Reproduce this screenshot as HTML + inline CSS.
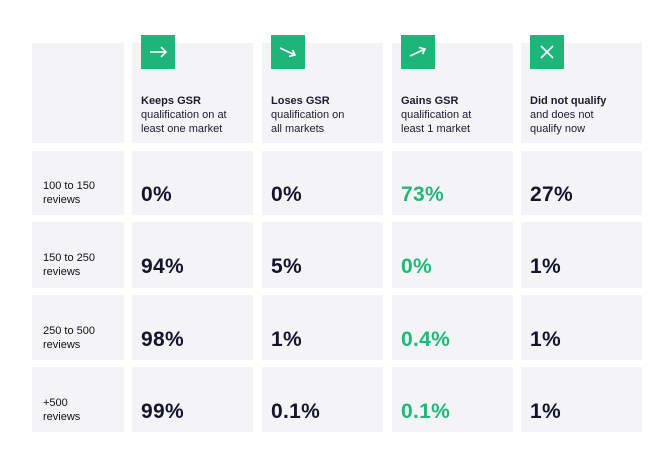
<!DOCTYPE html>
<html><head><meta charset="utf-8"><style>
body{margin:0;width:670px;height:472px;background:#fff;font-family:"Liberation Sans",sans-serif;position:relative;overflow:hidden}
.c{position:absolute;background:#f4f4f7}
.icon{position:absolute;width:34px;height:34px;background:#1fb57a}
.h{position:absolute;font-size:11px;line-height:14px;color:#1b1b2e}
.h b{font-weight:bold}
.rl{position:absolute;font-size:11px;line-height:14px;color:#111}
.v{position:absolute;font-size:21px;font-weight:bold;color:#14142b;letter-spacing:0.3px}
.g{color:#22b77a}
</style></head><body>
<div id="root"></div>
<script>
const columns=[["Keeps GSR","qualification on at","least one market"],["Loses GSR","qualification on","all markets"],["Gains GSR","qualification at","least 1 market"],["Did not qualify","and does not","qualify now"]];
const rowLabels=[["100 to 150","reviews"],["150 to 250","reviews"],["250 to 500","reviews"],["+500","reviews"]];
const values=[["0%","0%","73%","27%"],["94%","5%","0%","1%"],["98%","1%","0.4%","1%"],["99%","0.1%","0.1%","1%"]];
const greenCol=2;
const colX=[32,132,262,392,521],colW=[92,121,121,121,121];
const rowY=[151,222,295,367],rowH=[64,66,65,65];
const icons=['<path d="M9 17H25M20 12L25 17L20 22" stroke="#fff" stroke-width="1.6" fill="none"/>','<path d="M9 13L24 20M18 21.5L24 20L21.5 15" stroke="#fff" stroke-width="1.6" fill="none"/>','<path d="M9 21L24 14M18 12.5L24 14L21.5 19" stroke="#fff" stroke-width="1.6" fill="none"/>','<path d="M11 11L23 23M23 11L11 23" stroke="#fff" stroke-width="1.6" fill="none"/>'];
const b=document.body;
function add(cls,x,y,w,h,html){const d=document.createElement('div');d.className=cls;d.style.left=x+'px';d.style.top=y+'px';if(w)d.style.width=w+'px';if(h)d.style.height=h+'px';if(html)d.innerHTML=html;b.appendChild(d);return d;}
let e=add('c',colX[0],43,colW[0],100);


columns.forEach((c,i)=>{
 let cell=add('c',colX[i+1],43,colW[i+1],100);
 
 
 let ic=add('icon',colX[i+1]+9,35,0,0,'<svg width="34" height="34">'+icons[i]+'</svg>');
 
 
 let t=add('h',colX[i+1]+9,94,115,0,'<b>'+c[0]+'</b><br>'+c[1]+'<br>'+c[2]);
 
 
});
rowLabels.forEach((r,j)=>{
 let cell=add('c',colX[0],rowY[j],colW[0],rowH[j]);
 
 
 let t=add('rl',colX[0]+11,rowY[j]+rowH[j]/2-4,80,0,r[0]+'<br>'+r[1]);
 
 
 values[j].forEach((v,i)=>{
  let vc=add('c',colX[i+1],rowY[j],colW[i+1],rowH[j]);
  
  
  let vt=add('v'+(i===greenCol?' g':''),colX[i+1]+9,rowY[j]+rowH[j]/2,0,0,v);
  
  
 });
});
</script>
</body></html>
